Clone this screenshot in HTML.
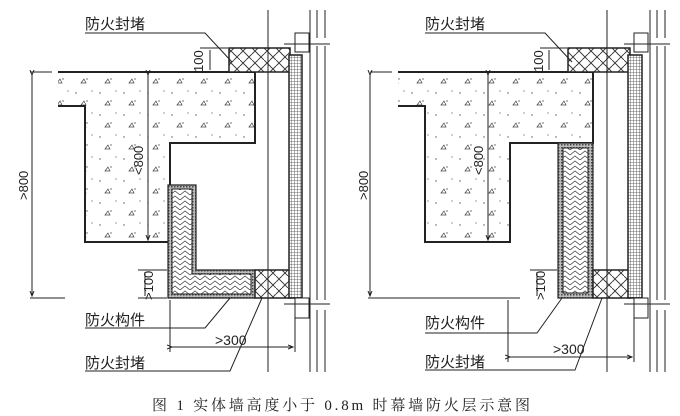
<!DOCTYPE html>
<html><head><meta charset="utf-8"><style>
html,body{margin:0;padding:0;background:#fff;}
svg{display:block}
text{font-family:"Liberation Sans","Noto Sans CJK SC",sans-serif;fill:#222}
</style></head><body>
<svg width="680" height="416" viewBox="0 0 680 416" xmlns="http://www.w3.org/2000/svg">
<defs>
<pattern id="hb" width="12" height="12" patternUnits="userSpaceOnUse">
<rect width="12" height="12" fill="#fff"/>
<path d="M0 6 L6 0 M6 12 L12 6 M0 0 L6 6 M6 6 L12 12" stroke="#333" stroke-width="0.9" fill="none"/>
</pattern>
<pattern id="hb2" width="10" height="10" patternUnits="userSpaceOnUse">
<rect width="10" height="10" fill="#fff"/>
<path d="M0 5 L5 1 L10 5 M0 10 L5 6 L10 10" stroke="#444" stroke-width="0.8" fill="none"/>
</pattern>
<pattern id="grid" width="3" height="3" patternUnits="userSpaceOnUse">
<rect width="3" height="3" fill="#fff"/>
<path d="M0 0 H3 M0 0 V3" stroke="#444" stroke-width="0.8"/>
</pattern>
<pattern id="edge" width="3" height="3" patternUnits="userSpaceOnUse">
<rect width="3" height="3" fill="#bbb"/>
<rect width="1.5" height="1.5" fill="#444"/>
</pattern>
<pattern id="dots" width="24" height="22" patternUnits="userSpaceOnUse">
<rect width="24" height="22" fill="#fff"/>
<circle cx="4" cy="5" r="0.7" fill="#555"/><circle cx="15" cy="13" r="0.7" fill="#555"/>
<circle cx="20" cy="3" r="0.6" fill="#555"/><path d="M9 17 l3 -4 l2 4 z" fill="none" stroke="#444" stroke-width="0.7"/>
</pattern>
<marker id="ar" markerWidth="6" markerHeight="6" refX="5" refY="3" orient="auto"><path d="M0 1 L5 3 L0 5" fill="none" stroke="#222"/></marker>
</defs>

<!-- LEFT PANEL -->
<g stroke="#222" fill="none">
<polygon points="58,72 255,72 255,143 170,143 170,242 85,242 85,106 58,106" fill="url(#dots)" stroke="none"/>
<path d="M58 72 H255 V143 H170 V242 H85 V106 H58" stroke-width="2"/>
<path d="M30 72 H52" stroke-width="1"/>
<rect x="229" y="48" width="61" height="24" fill="url(#hb)" stroke-width="1.5"/>
<path d="M168 185 H196 V270 H255 V298 H168 Z" fill="url(#edge)" stroke-width="1.2"/>
<path d="M172 189 H192 V274 H251 V294 H172 Z" fill="url(#hb2)" stroke-width="1"/>
<rect x="255" y="270" width="35" height="28" fill="url(#hb)" stroke-width="1.5"/>
<rect x="289" y="55" width="13" height="243" fill="url(#grid)" stroke-width="1.5"/>
<rect x="295" y="33" width="14" height="19" fill="#fff"/>
<rect x="295" y="298" width="14" height="20" fill="#fff"/>
<path d="M268 10 V372 M310 10 V372 M317 10 V38 M325 10 V38 M317 46 V300 M325 46 V300 M317 310 V372 M325 310 V372 M284 44 H330 M284 304 H330" stroke-width="1"/>
<path d="M32 75 V296" marker-end="url(#ar)" marker-start="url(#ar)"/>
<path d="M30 298 H65"/>
<path d="M148 75 V240" marker-start="url(#ar)" marker-end="url(#ar)"/>
<path d="M210 50 V70"/><path d="M200 48 H228"/>
<path d="M145 272 V296"/><path d="M138 270 H167"/><path d="M138 298 H167"/>
<path d="M170 300 V352 M295 318 V352"/>
<path d="M172 347 H293" marker-start="url(#ar)" marker-end="url(#ar)"/>
<path d="M85 33 H205 L232 62"/>
<path d="M85 328 H205 L230 298"/>
<path d="M85 371 H230 L262 298"/>
</g>
<text x="85" y="29" font-size="15">防火封堵</text>
<text x="85" y="325" font-size="15">防火构件</text>
<text x="85" y="368" font-size="15">防火封堵</text>
<text x="215" y="345" font-size="14">&gt;300</text>
<text transform="translate(203,72) rotate(-90)" font-size="13">100</text>
<text transform="translate(153,300) rotate(-90)" font-size="13">&gt;100</text>
<text transform="translate(143,175) rotate(-90)" font-size="13">&lt;800</text>
<text transform="translate(28,200) rotate(-90)" font-size="13">&gt;800</text>

<!-- RIGHT PANEL -->
<g stroke="#222" fill="none">
<polygon points="398,72 593,72 593,143 510,143 510,242 425,242 425,106 398,106" fill="url(#dots)" stroke="none"/>
<path d="M398 72 H593 V143 H510 V242 H425 V106 H398" stroke-width="2"/>
<path d="M370 72 H392"/>
<rect x="568" y="48" width="62" height="24" fill="url(#hb)" stroke-width="1.5"/>
<rect x="558" y="143" width="35" height="155" fill="url(#edge)" stroke-width="1.2"/>
<rect x="563" y="148" width="25" height="145" fill="url(#hb2)" stroke-width="1"/>
<rect x="593" y="270" width="37" height="28" fill="url(#hb)" stroke-width="1.5"/>
<rect x="628" y="55" width="14" height="243" fill="url(#grid)" stroke-width="1.5"/>
<rect x="634" y="33" width="14" height="19" fill="#fff"/>
<rect x="634" y="298" width="14" height="20" fill="#fff"/>
<path d="M607 10 V372 M650 10 V372 M657 10 V38 M665 10 V38 M657 46 V300 M665 46 V300 M657 310 V372 M665 310 V372 M624 44 H670 M624 304 H670"/>
<path d="M370 75 V296" marker-end="url(#ar)" marker-start="url(#ar)"/>
<path d="M368 298 H520"/>
<path d="M488 75 V240" marker-start="url(#ar)" marker-end="url(#ar)"/>
<path d="M549 50 V70"/><path d="M540 48 H567"/>
<path d="M537 272 V296"/><path d="M530 270 H557"/>
<path d="M508 300 V362 M634 318 V362"/>
<path d="M510 357 H632" marker-start="url(#ar)" marker-end="url(#ar)"/>
<path d="M425 33 H545 L572 62"/>
<path d="M425 333 H537 L562 298"/>
<path d="M425 370 H575 L602 298"/>
</g>
<text x="425" y="29" font-size="15">防火封堵</text>
<text x="425" y="328" font-size="15">防火构件</text>
<text x="425" y="367" font-size="15">防火封堵</text>
<text x="553" y="354" font-size="14">&gt;300</text>
<text transform="translate(543,72) rotate(-90)" font-size="13">100</text>
<text transform="translate(545,300) rotate(-90)" font-size="13">&gt;100</text>
<text transform="translate(483,175) rotate(-90)" font-size="13">&lt;800</text>
<text transform="translate(368,200) rotate(-90)" font-size="13">&gt;800</text>

<text x="152" y="410" font-size="15" textLength="378" style="font-family:'Liberation Serif','Noto Serif CJK SC',serif">图 1 实体墙高度小于 0.8m 时幕墙防火层示意图</text>
</svg>
</body></html>
